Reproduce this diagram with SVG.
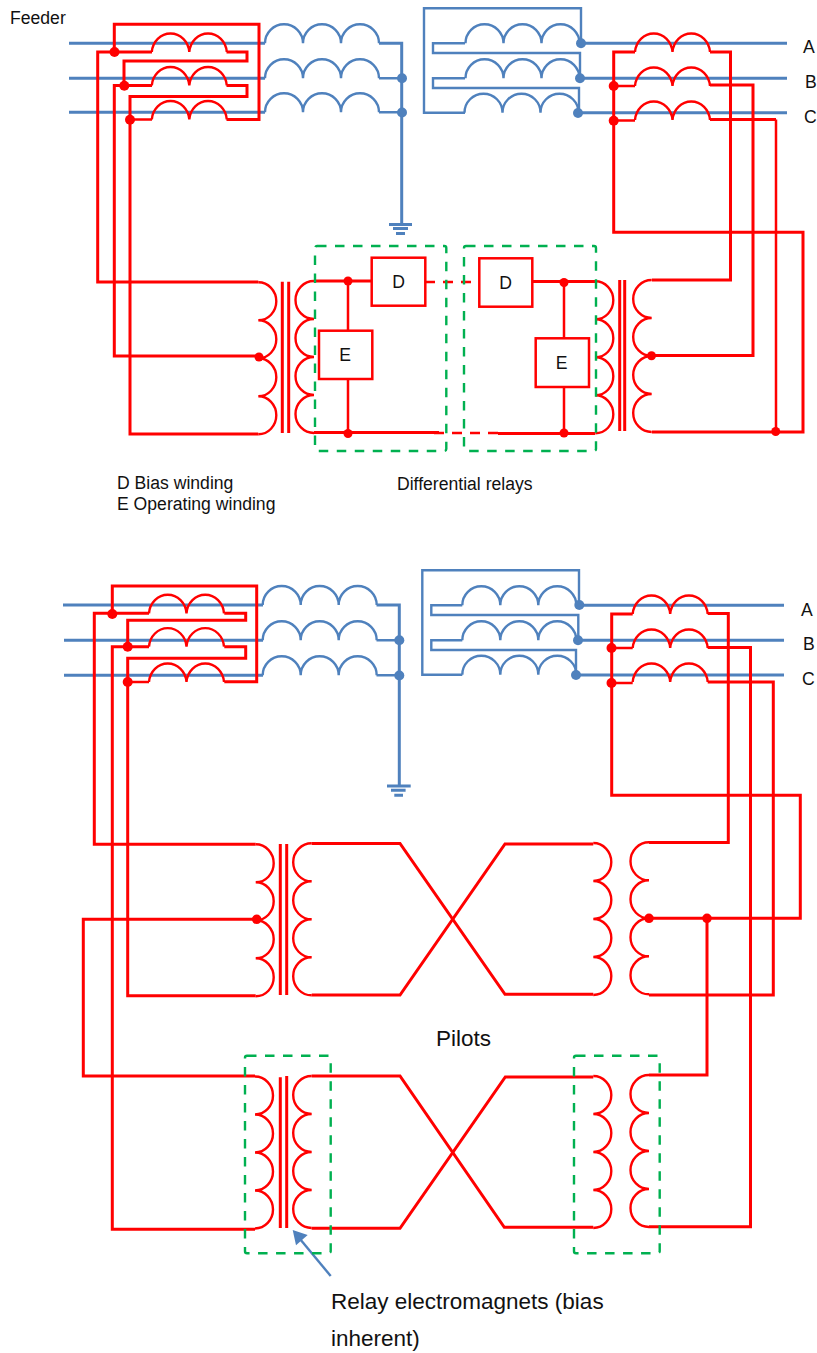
<svg xmlns="http://www.w3.org/2000/svg" width="817" height="1353" viewBox="0 0 817 1353">
<style>
.w{fill:none;stroke:#f00;stroke-width:3;stroke-linejoin:miter}
.t{fill:none;stroke:#f00;stroke-width:2.5}
.d{fill:none;stroke:#f00;stroke-width:2.6;stroke-dasharray:10 8}
.c{fill:none;stroke:#f00;stroke-width:2.4}
.b{fill:none;stroke:#4f81bd;stroke-width:3}
.bt{fill:none;stroke:#4f81bd;stroke-width:2.4}
.box{fill:#fff;stroke:#f00;stroke-width:2.5}
.g{fill:none;stroke:#00b050;stroke-width:2.4;stroke-dasharray:9.5 8.5}
.rd{fill:#f00}
.bd{fill:#4f81bd}
text{font-family:"Liberation Sans",Arial,sans-serif;fill:#111}
.s{font-size:17.6px}
.l{font-size:22.5px}
</style>
<defs>
<path id="bc" class="bt" d="M0 0A19 19 0 0 1 38 0A19 19 0 0 1 76 0A19 19 0 0 1 114 0"/>
<path id="rc" class="c" d="M0 0A18.8 20 0 0 1 37.5 0A18.8 20 0 0 1 75 0"/>
<path id="vr" class="c" d="M0 0A18 19 0 0 1 0 38A18 19 0 0 1 0 76A18 19 0 0 1 0 114A18 19 0 0 1 0 152"/>
<path id="vl" class="c" d="M0 0A18.5 19 0 0 0 0 38A18.5 19 0 0 0 0 76A18.5 19 0 0 0 0 114A18.5 19 0 0 0 0 152"/>
</defs>

<g id="connectors">
<path class="b" d="M69 43.3H265M69 78.3H265M69 112.3H265"/>
<path class="b" d="M379 43.3H401.7V224"/>
<path class="bt" d="M379 78.3H401.7M379 112.3H401.7"/>
<path class="bt" d="M581 43.3V8.3H424V112.7H465"/>
<path class="bt" d="M465 43.3H433V53H580V78.3"/>
<path class="bt" d="M465 78.3H433V88H579V112.7"/>
<path class="b" d="M581 43.3H787M580 78.3H787M578 112.7H787"/>
<path class="b" d="M63 605H263M64 640.3H263M64 675.3H263"/>
<path class="b" d="M376.500 605H399.300V786"/>
<path class="bt" d="M376.500 640.300H399.300M376.500 675.300H399.300"/>
<path class="bt" d="M579 605V570.300H422.300V674.700H462.300"/>
<path class="bt" d="M462.300 605.300H431.300V615H578.300V640.300"/>
<path class="bt" d="M462.300 640.300H431.300V650H576V675"/>
<path class="b" d="M579 605.300H784M578 640.300H784M576 675H784"/>
<path class="w" d="M114.300 52V24.300H259V119.400H226.500"/>
<path class="w" d="M152 52H97.700V282H258.300"/>
<path class="w" d="M226.500 52H247V61H124V85.500"/>
<path class="w" d="M152 85.500H114.300V356H258.300"/>
<path class="w" d="M226.500 85.500H247V96.500H130V434H258.300"/>
<path class="t" d="M130 119.500H152"/>
<path class="w" d="M635 52H613.700V232.300H803V432H652"/>
<path class="t" d="M613.700 86H635M613.700 120.500H635"/>
<path class="w" d="M710 52H730.500V280H652"/>
<path class="w" d="M710 85H753V355.500H652"/>
<path class="w" d="M710 119.500H776"/>
<path class="t" d="M776 119.500V432"/>
<path class="w" d="M314 281H372M532 281.500H595M314 432.500H439M498 433.500H595"/>
<path class="t" d="M348 281V331M348 379V433M564 282V338M564 387V433"/>
<path class="d" d="M425 282H479"/>
<path class="d" d="M434 433H498"/>
<path class="w" d="M112.300 613.500V586H256.700V681.800H224.300"/>
<path class="w" d="M149 613.300H94.300V844.300H255.700"/>
<path class="w" d="M224.300 613.300H245.700V620.300H127.700V647"/>
<path class="w" d="M149 646.700H112.300V1229.300H255"/>
<path class="w" d="M224.300 646.700H245.700V658.300H127.700V995.700H255.700"/>
<path class="t" d="M127.700 682H149"/>
<path class="w" d="M256.700 919.300H83.300V1076H255"/>
<path class="w" d="M632.700 614H611.700V795.300H800.300V918.300H649"/>
<path class="t" d="M611.700 648H632.700M611.700 683H632.700"/>
<path class="w" d="M707.700 613.500H728.300V842.500H649"/>
<path class="w" d="M707.700 647.500H750.500V1226.700H649"/>
<path class="w" d="M707.700 682H773.300V995H649"/>
<path class="w" d="M707 918.300V1075H649"/>
<path class="w" d="M311.700 843.500H400L505 994.300H593.300"/>
<path class="w" d="M311.700 995H400L505 844H593.300"/>
<path class="w" d="M311.700 1076H400L504.300 1227.300H593.300"/>
<path class="w" d="M311.700 1228.300H400L505.300 1077H593.300"/>
<path class="bt" d="M330.700 1276L300 1239"/>
<path class="bd" d="M292.700 1230L307.700 1235L296 1245.300Z"/>
</g>

<g id="ground-top"><path class="b" d="M389 224.500H412M393 228.500H408M396 233.500H405"/></g>
<g id="ground-bottom"><path class="b" d="M387 786H410.700M391 790.300H405.600M394.300 795.300H403"/></g>

<g id="line-coils-top-left"><use href="#bc" x="265" y="43.300"/><use href="#bc" x="265" y="78.300"/><use href="#bc" x="265" y="112.300"/></g>
<g id="line-coils-top-right"><use href="#bc" x="465.500" y="43.300"/><use href="#bc" x="465.500" y="78.300"/><use href="#bc" x="464.500" y="112.700"/></g>
<g id="line-coils-bottom-left"><use href="#bc" x="262.700" y="605"/><use href="#bc" x="262.700" y="640.300"/><use href="#bc" x="262.700" y="675.300"/></g>
<g id="line-coils-bottom-right"><use href="#bc" x="462.300" y="605.300"/><use href="#bc" x="462.300" y="640.300"/><use href="#bc" x="462.300" y="674.700"/></g>

<g id="ct-top-left"><use href="#rc" x="151.800" y="52"/><use href="#rc" x="151.800" y="85.500"/><use href="#rc" x="151.800" y="119.500"/></g>
<g id="ct-top-right"><use href="#rc" x="635" y="52"/><use href="#rc" x="635" y="86"/><use href="#rc" x="635" y="120"/></g>
<g id="ct-bottom-left"><use href="#rc" x="149" y="613.300"/><use href="#rc" x="149" y="646.700"/><use href="#rc" x="149" y="682"/></g>
<g id="ct-bottom-right"><use href="#rc" x="632.700" y="614"/><use href="#rc" x="632.700" y="648"/><use href="#rc" x="632.700" y="682"/></g>

<g id="transformer-top-left">
<use href="#vr" x="258.300" y="282.300"/>
<path class="w" d="M282.300 281.700V433M288.700 281.700V433"/>
<use href="#vl" x="314" y="281"/>
</g>
<g id="transformer-top-right">
<use href="#vr" x="595.300" y="281.300"/>
<path class="w" d="M619.700 280V431M624.700 280V431"/>
<use href="#vl" x="651.700" y="280"/>
</g>
<g id="transformer-mid-left">
<use href="#vr" x="255.700" y="844.300"/>
<path class="w" d="M280.300 844V995M286.700 844V995"/>
<use href="#vl" x="311.700" y="843.300"/>
</g>
<g id="transformer-mid-right">
<use href="#vr" x="593.300" y="843"/>
<use href="#vl" x="649" y="842.300"/>
</g>
<g id="transformer-low-left">
<use href="#vr" x="255" y="1076.500"/>
<path class="w" d="M280.300 1077.300V1228M286.700 1076V1228"/>
<use href="#vl" x="311.700" y="1076"/>
</g>
<g id="transformer-low-right">
<use href="#vr" x="593.300" y="1076"/>
<use href="#vl" x="649" y="1075"/>
</g>

<g id="relay-d-left"><rect class="box" x="371.700" y="257.700" width="53.600" height="48"/><text class="s" x="398.500" y="288" text-anchor="middle">D</text></g>
<g id="relay-e-left"><rect class="box" x="319" y="330.700" width="53.300" height="48.300"/><text class="s" x="345" y="361" text-anchor="middle">E</text></g>
<g id="relay-d-right"><rect class="box" x="479.300" y="258.300" width="53" height="48.400"/><text class="s" x="505.500" y="289" text-anchor="middle">D</text></g>
<g id="relay-e-right"><rect class="box" x="535.700" y="338.300" width="53.300" height="48.700"/><text class="s" x="561.500" y="369" text-anchor="middle">E</text></g>

<g id="junctions">
<g class="bd"><circle cx="402" cy="78.300" r="5"/><circle cx="402" cy="112.500" r="5"/><circle cx="581" cy="43.300" r="5"/><circle cx="580" cy="78.300" r="5"/><circle cx="578" cy="113" r="5"/>
<circle cx="399.300" cy="640.300" r="5"/><circle cx="399.300" cy="675.500" r="5"/><circle cx="579.300" cy="605" r="5"/><circle cx="578" cy="640.300" r="5"/><circle cx="576" cy="675" r="5"/></g>
<g class="rd"><circle cx="114.500" cy="52" r="5"/><circle cx="124.300" cy="85.800" r="5"/><circle cx="130" cy="119.700" r="5"/>
<circle cx="613.700" cy="86" r="5"/><circle cx="613.700" cy="120.700" r="5"/><circle cx="348" cy="281" r="4.500"/><circle cx="348" cy="433.500" r="4.500"/><circle cx="564" cy="282.500" r="4.500"/><circle cx="564" cy="433" r="4.500"/><circle cx="259" cy="357" r="4.500"/><circle cx="651.500" cy="355.700" r="4.500"/><circle cx="775.700" cy="431.500" r="4.500"/>
<circle cx="112.300" cy="614" r="5"/><circle cx="127.700" cy="646.700" r="5"/><circle cx="127.700" cy="682" r="5"/><circle cx="611.500" cy="648" r="5"/><circle cx="611.500" cy="683" r="5"/><circle cx="256.700" cy="919.300" r="4.800"/><circle cx="649" cy="918.300" r="4.800"/><circle cx="707" cy="918.300" r="4.800"/></g>
</g>

<g id="groups">
<rect class="g" x="315" y="246" width="131.300" height="205" rx="2"/>
<rect class="g" x="464" y="246" width="132" height="205" rx="2"/>
<rect class="g" x="245" y="1055.700" width="85.700" height="197.500" rx="2"/>
<rect class="g" x="574" y="1055.700" width="85.700" height="197.500" rx="2"/>
</g>

<g id="labels">
<text class="s" x="10" y="23.500">Feeder</text>
<text class="s" x="803" y="52.500">A</text>
<text class="s" x="805" y="88">B</text>
<text class="s" x="804" y="122.500">C</text>
<text class="s" x="117" y="488.500">D Bias winding</text>
<text class="s" x="117" y="510">E Operating winding</text>
<text class="s" x="397" y="490">Differential relays</text>
<text class="s" x="801" y="615.500">A</text>
<text class="s" x="803" y="650">B</text>
<text class="s" x="802" y="685">C</text>
<text class="l" x="436" y="1045.500">Pilots</text>
<text class="l" x="331" y="1309">Relay electromagnets (bias</text>
<text class="l" x="331" y="1346">inherent)</text>
</g>
</svg>
